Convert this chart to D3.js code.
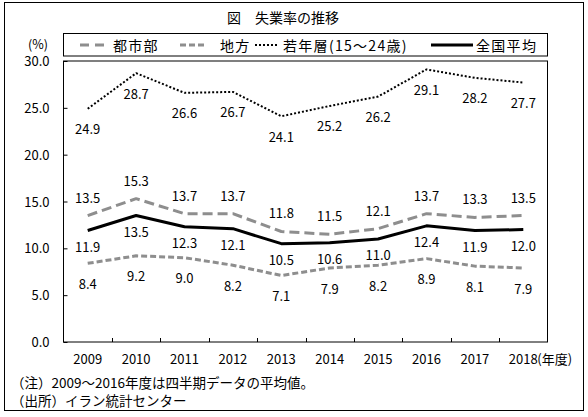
<!DOCTYPE html>
<html><head><meta charset="utf-8">
<script src="https://cdn.jsdelivr.net/npm/d3@7"></script>
<style>
body{margin:0;background:#fff;}
text{font-family:"Noto Sans CJK JP","DejaVu Sans",sans-serif;fill:#000;}
</style></head>
<body><svg id="c" width="588" height="417"></svg>
<script>
const years = ["2009","2010","2011","2012","2013","2014","2015","2016","2017","2018"];
const urban = [13.5,15.3,13.7,13.7,11.8,11.5,12.1,13.7,13.3,13.5];
const regional = [8.4,9.2,9.0,8.2,7.1,7.9,8.2,8.9,8.1,7.9];
const youth = [24.9,28.7,26.6,26.7,24.1,25.2,26.2,29.1,28.2,27.7];
const national = [11.9,13.5,12.3,12.1,10.5,10.6,11.0,12.4,11.9,12.0];
const seriesNames = ["都市部","地方","若年層(15～24歳)","全国平均"];
const yTicks = [0,5,10,15,20,25,30];
const title = "図　失業率の推移";
const notes = ["（注）2009～2016年度は四半期データの平均値。","（出所）イラン統計センター"];

const svg = d3.select("#c");
const L=63.5, R=547.5, T=61, B=342;
const x = d3.scaleBand().domain(years).range([L,R]).padding(0);
const y = d3.scaleLinear().domain([0,30]).range([B,T]);
const cx = d => x(d)+x.bandwidth()/2;

// outer frame
svg.append("rect").attr("x",4.5).attr("y",2.5).attr("width",579).attr("height",408)
  .attr("fill","none").attr("stroke","#000").attr("stroke-width",1);

// title
svg.append("text").attr("x",283).attr("y",17).attr("text-anchor","middle")
  .attr("dominant-baseline","central").style("font-size","14px").text(title);

// plot border
svg.append("rect").attr("x",L).attr("y",T).attr("width",R-L).attr("height",B-T)
  .attr("fill","none").attr("stroke","#000").attr("stroke-width",1);

// y axis
const ya = svg.append("g").attr("transform",`translate(${L},0)`)
  .call(d3.axisLeft(y).tickValues(yTicks).tickSize(-4).tickPadding(14).tickFormat(d3.format(".1f")));
ya.select(".domain").remove();
ya.selectAll("text").style("font-size","13px").attr("dy","0.35em");
svg.append("text").attr("x",38).attr("y",43).attr("text-anchor","middle")
  .attr("dominant-baseline","central").style("font-size","12.5px").text("(%)");

// x ticks at band boundaries
svg.append("g").selectAll("line").data(years.slice(1)).join("line")
  .attr("x1",d=>Math.round(x(d))+0.5).attr("x2",d=>Math.round(x(d))+0.5)
  .attr("y1",B).attr("y2",B-4).attr("stroke","#000");
// x labels
const xa = svg.append("g").attr("transform",`translate(0,${B})`)
  .call(d3.axisBottom(x).tickSize(0).tickPadding(13));
xa.select(".domain").remove();
xa.selectAll("text").style("font-size","13px");
svg.append("text").attr("x",cx("2018")+14).attr("y",B+13).attr("dy","0.71em")
  .style("font-size","13px").text("(年度)");

// lines
const gray = "#8e8e8e";
const defs = [
  {data:urban, stroke:gray, w:3, dash:"10,5", off:-18.5},
  {data:regional, stroke:gray, w:3, dash:"6,3", off:20},
  {data:youth, stroke:"#000", w:2, dash:"2,2", off:20},
  {data:national, stroke:"#000", w:3, dash:null, off:16}
];
const line = d3.line().x((d,i)=>cx(years[i])).y(d=>y(d));
defs.forEach(s=>{
  svg.append("path").datum(s.data).attr("d",line).attr("fill","none")
    .attr("stroke",s.stroke).attr("stroke-width",s.w)
    .attr("stroke-dasharray",s.dash).attr("stroke-linejoin","round");
  svg.append("g").selectAll("text").data(s.data).join("text")
    .attr("x",(d,i)=>cx(years[i])).attr("y",d=>y(d)+s.off)
    .attr("text-anchor","middle").attr("dominant-baseline","central")
    .style("font-size","13px").text(d=>d3.format(".1f")(d));
});

// legend
svg.append("rect").attr("x",63.5).attr("y",33.5).attr("width",484).attr("height",22.5)
  .attr("fill","none").attr("stroke","#000");
const ly = 45;
const leg = [
  {x1:80,x2:106,tx:113,stroke:gray,w:3,dash:"9,6"},
  {x1:180,x2:204,tx:220,stroke:gray,w:3,dash:"6,3"},
  {x1:255,x2:278,tx:283,stroke:"#000",w:2,dash:"2,2"},
  {x1:431,x2:473,tx:476,stroke:"#000",w:3,dash:null}
];
leg.forEach((l,i)=>{
  svg.append("line").attr("x1",l.x1).attr("x2",l.x2).attr("y1",ly).attr("y2",ly)
    .attr("stroke",l.stroke).attr("stroke-width",l.w).attr("stroke-dasharray",l.dash);
  svg.append("text").attr("x",l.tx).attr("y",ly).attr("dominant-baseline","central")
    .style("font-size","14px").style("letter-spacing","1.3px").text(seriesNames[i]);
});

// notes
notes.forEach((n,i)=>{
  svg.append("text").attr("x",11).attr("y",381.5+i*18.5).attr("dominant-baseline","central")
    .style("font-size","13.5px").text(n);
});
</script></body></html>
